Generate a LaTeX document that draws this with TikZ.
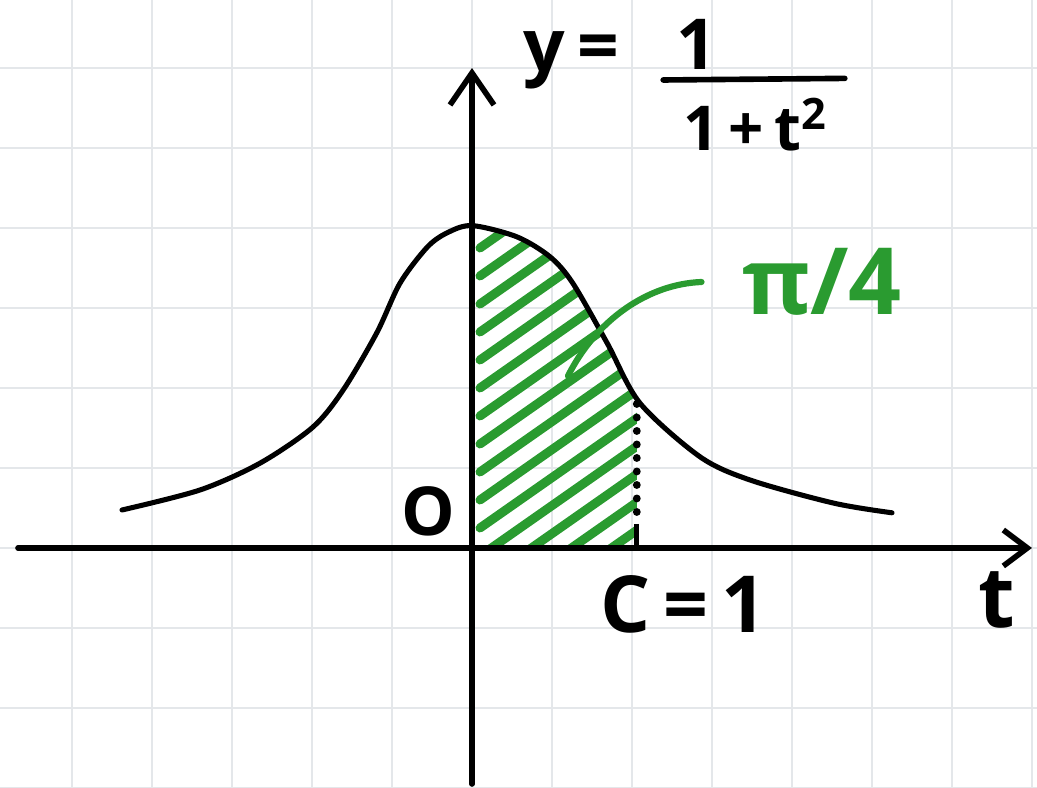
\documentclass[tikz,border=0pt]{standalone}
\usepackage{fontspec}
\setmainfont{Open Sans}
\usetikzlibrary{arrows.meta,positioning}
\definecolor{penGreen}{RGB}{42,155,48}
\definecolor{gridGray}{RGB}{228,231,234}

\begin{document}
\begin{tikzpicture}[x=1cm, y=1cm,
    axis/.style={line width=2pt, line cap=round},
    curve/.style={line width=1.8pt, line cap=round, line join=round},
    hatch/.style={penGreen, line width=3.2pt, line cap=round},
    hand/.style={font=\fontsize{#1}{#1}\selectfont\bfseries, inner sep=0pt}]

    % Paper and squared grid
    \useasboundingbox (-5.9,-3) rectangle (7.0625,6.85);
    \fill[white] (-5.9,-3) rectangle (7.0625,6.85);
    \draw[gridGray, line width=0.7pt, step=1] (-5.9,-3) grid (7.0625,6.85);

    % Hatched area between 0 and C
    \begin{scope}
        \clip (0,0) -- plot[smooth] coordinates {(0,4.03) (0.56,3.89) (0.975,3.64) (1.26,3.31) (1.69,2.56) (2.06,1.85)} -- (2.06,0) -- cycle;
        \foreach \k in {0,...,16}
            \draw[hatch] (0.1,-1.5+\k*0.35) -- ++(2.4,1.68);
    \end{scope}

    % Axes
    \coordinate (xstart) at (-5.675,0);
    \coordinate (xend) at (7.0,0);
    \coordinate (ystart) at (0,-2.95);
    \coordinate (yend) at (0,6.0);
    \draw[axis, -{Straight Barb[length=3mm, width=4.5mm]}] (xstart) -- (xend);
    \draw[axis, -{Straight Barb[length=4mm, width=5.5mm]}] (ystart) -- (yend);

    % The curve y = 1/(1+t^2)
    \draw[curve] plot[smooth] coordinates {(-4.375,0.475) (-3.4,0.725) (-2.65,1.06) (-1.99,1.51) (-1.61,1.975) (-1.19,2.69) (-0.9,3.31) (-0.56,3.76) (-0.31,3.94) (0,4.03) (0.56,3.89) (0.975,3.64) (1.26,3.31) (1.69,2.56) (2.1,1.81) (2.85,1.14) (3.475,0.85) (4.525,0.56) (5.25,0.44)};

    % Dotted line at C
    \coordinate (ctop) at (2.06,1.8);
    \coordinate (cmid) at (2.06,0.3);
    \coordinate (cfoot) at (2.06,0);
    \draw[line width=2.8pt, line cap=round, dash pattern=on 0pt off 4.8pt] (ctop) -- (cmid);
    \draw[line width=1.8pt] (cmid) -- (cfoot);

    % Labels
    \node[hand=24] (orig) at (-0.55,0.46) {O};
    \node[hand=28] (cval) at (2.64,-0.71) {C\,=\,1};
    \node[hand=30] (tlbl) at (6.56,-0.65) {t};
    \node[hand=26] (ylbl) at (1.24,6.1) {y\,=};
    \node[hand=25] (num) at (2.81,6.29) {1};
    \node[hand=22] (den) at (3.54,5.29) {1\,+\,t\textsuperscript{2}};
    \draw[line width=2pt, line cap=round] (2.39,5.85) -- (4.66,5.87);

    % Area value with its leader
    \node[hand=33, penGreen] (area) at (4.375,3.325) {π/4};
    \coordinate (hatchpt) at (1.2,2.15);
    \draw[penGreen, line width=2.2pt, line cap=round]
        (hatchpt) .. controls (1.55,2.85) and (2.2,3.3) .. ([xshift=-5mm]area.west);
\end{tikzpicture}
\end{document}
